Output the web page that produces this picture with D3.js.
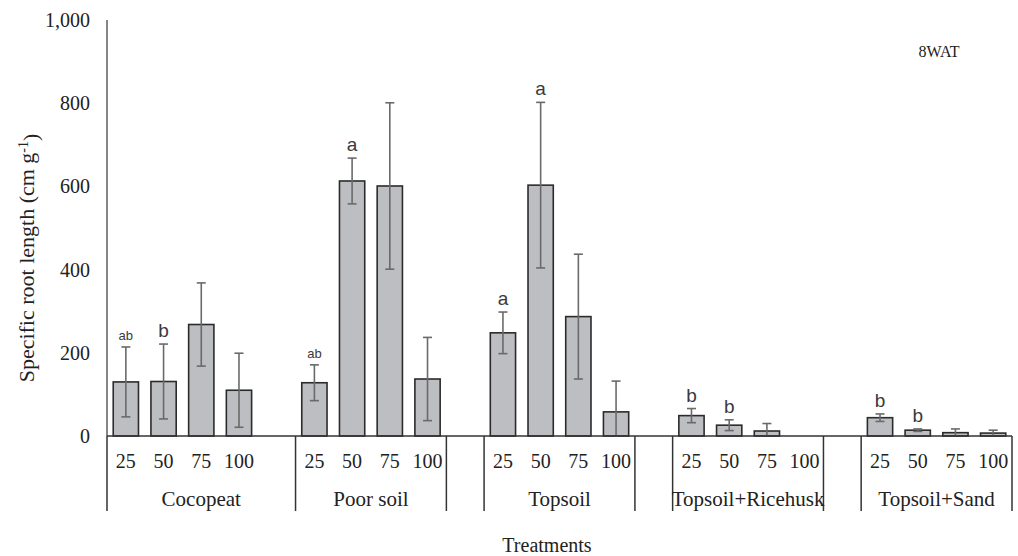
<!DOCTYPE html>
<html>
<head>
<meta charset="utf-8">
<script src="https://cdn.jsdelivr.net/npm/d3@7"></script>
<style>
  body { margin: 0; background: #fff; }
  svg { display: block; }
</style>
</head>
<body>
<div id="chart"></div>
<script>
// groups of treatments, with the blank spacer slots that the original chart uses
const groups = ["Cocopeat", "Poor soil", "", "Topsoil", "", "Topsoil+Ricehusk", "", "Topsoil+Sand"];
const levels = ["25", "50", "75", "100"];
// slots per group (Cocopeat carries its spacer inside the group)
const groupSlots = [5, 4, 1, 4, 1, 4, 1, 4];

const cocopeat = [130, 131, 268, 110];
const poorSoil = [128, 613, 601, 137];
const topsoil = [248, 603, 287, 58];
const ricehusk = [49, 26, 12, 0];
const sand = [44, 14, 8, 7];

const cocopeatErr = [84, 90, 100, 89];
const poorSoilErr = [43, 55, 200, 100];
const topsoilErr = [50, 199, 150, 74];
const ricehuskErr = [17, 13, 18, 0];
const sandErr = [9, 3, 9, 7];

const cocopeatSig = ["ab", "b", "", ""];
const poorSoilSig = ["ab", "a", "", ""];
const topsoilSig = ["a", "a", "", ""];
const ricehuskSig = ["b", "b", "", ""];
const sandSig = ["b", "b", "", ""];

const yTicks = [0, 200, 400, 600, 800, 1000];

const width = 1018, height = 556;
const margin = { top: 20, right: 6, bottom: 120, left: 107 };
const serif = "'Liberation Serif', 'Times New Roman', serif";

// build the flat list of slots
const slots = [];
const groupSpans = [];
groups.forEach((g, gi) => {
  const start = slots.length;
  for (let k = 0; k < groupSlots[gi]; k++) slots.push({ group: g, gi: gi, k: k, id: gi + "-" + k });
  groupSpans.push({ name: g, start: start, end: slots.length });
});

const series = {
  "Cocopeat": [cocopeat, cocopeatErr, cocopeatSig],
  "Poor soil": [poorSoil, poorSoilErr, poorSoilSig],
  "Topsoil": [topsoil, topsoilErr, topsoilSig],
  "Topsoil+Ricehusk": [ricehusk, ricehuskErr, ricehuskSig],
  "Topsoil+Sand": [sand, sandErr, sandSig]
};

const bars = [];
slots.forEach((s) => {
  const sr = series[s.group];
  if (sr && s.k < 4) {
    bars.push({ id: s.id, value: sr[0][s.k], err: sr[1][s.k], sig: sr[2][s.k], level: levels[s.k] });
  }
});

const x = d3.scaleBand()
  .domain(slots.map((d) => d.id))
  .range([margin.left, width - margin.right])
  .paddingInner(0.33)
  .paddingOuter(0.165);

const step = x.step();
const x0 = margin.left;
const edge = (i) => x0 + i * step;

const y = d3.scaleLinear()
  .domain([0, 1000])
  .range([height - margin.bottom, margin.top]);

const svg = d3.select("#chart")
  .append("svg")
  .attr("width", width)
  .attr("height", height);

// y axis
svg.append("line")
  .attr("x1", x0).attr("x2", x0)
  .attr("y1", y(1000)).attr("y2", y(0))
  .attr("stroke", "#444").attr("stroke-width", 1.3);

svg.append("g")
  .style("font-family", serif)
  .style("font-size", "20px")
  .attr("fill", "#222")
  .attr("text-anchor", "end")
  .selectAll("text")
  .data(yTicks)
  .join("text")
  .attr("x", 90)
  .attr("y", (d) => y(d))
  .attr("dy", "0.35em")
  .text((d) => d3.format(",")(d));

// bars
svg.append("g")
  .selectAll("rect")
  .data(bars)
  .join("rect")
  .attr("x", (d) => x(d.id))
  .attr("width", x.bandwidth())
  .attr("y", (d) => y(d.value))
  .attr("height", (d) => y(0) - y(d.value))
  .attr("fill", "#bdbec2")
  .attr("stroke", "#2b2b2b")
  .attr("stroke-width", 1.6);

// error bars
const eb = svg.append("g")
  .attr("stroke", "#6a6a6a")
  .attr("stroke-width", 1.6)
  .selectAll("g")
  .data(bars.filter((d) => d.err > 0))
  .join("g")
  .attr("transform", (d) => `translate(${x(d.id) + x.bandwidth() / 2},0)`);

eb.append("line")
  .attr("y1", (d) => y(d.value + d.err))
  .attr("y2", (d) => y(Math.max(0, d.value - d.err)));
eb.append("line")
  .attr("x1", -4.5).attr("x2", 4.5)
  .attr("y1", (d) => y(d.value + d.err))
  .attr("y2", (d) => y(d.value + d.err));
eb.filter((d) => d.value - d.err > 0)
  .append("line")
  .attr("x1", -4.5).attr("x2", 4.5)
  .attr("y1", (d) => y(d.value - d.err))
  .attr("y2", (d) => y(d.value - d.err));

// significance letters
svg.append("g")
  .style("font-family", "'Liberation Sans', Arial, sans-serif")
  .attr("fill", "#3a3a3a")
  .attr("text-anchor", "middle")
  .selectAll("text")
  .data(bars.filter((d) => d.sig))
  .join("text")
  .attr("x", (d) => x(d.id) + x.bandwidth() / 2)
  .attr("y", (d) => y(d.value + d.err) - 7)
  .style("font-size", (d) => (d.sig.length > 1 ? "13px" : "19px"))
  .text((d) => d.sig);

// x axis baseline
svg.append("line")
  .attr("x1", x0).attr("x2", edge(slots.length))
  .attr("y1", y(0)).attr("y2", y(0))
  .attr("stroke", "#333").attr("stroke-width", 1.5);

// group separators
const seps = [0].concat(groupSpans.map((g) => g.end));
svg.append("g")
  .attr("stroke", "#333")
  .attr("stroke-width", 1.5)
  .selectAll("line")
  .data(seps)
  .join("line")
  .attr("x1", (d) => edge(d)).attr("x2", (d) => edge(d))
  .attr("y1", y(0)).attr("y2", 511);

// level labels
svg.append("g")
  .style("font-family", serif)
  .style("font-size", "20px")
  .attr("fill", "#222")
  .attr("text-anchor", "middle")
  .selectAll("text")
  .data(bars)
  .join("text")
  .attr("x", (d) => x(d.id) + x.bandwidth() / 2)
  .attr("y", 468)
  .text((d) => d.level);

// group labels
svg.append("g")
  .style("font-family", serif)
  .style("font-size", "21px")
  .attr("fill", "#222")
  .attr("text-anchor", "middle")
  .selectAll("text")
  .data(groupSpans.filter((g) => g.name))
  .join("text")
  .attr("x", (d) => (edge(d.start) + edge(d.end)) / 2)
  .attr("y", 506)
  .text((d) => d.name);

// axis titles
svg.append("text")
  .attr("x", 547).attr("y", 552)
  .attr("text-anchor", "middle")
  .style("font-family", serif)
  .style("font-size", "20px")
  .attr("fill", "#222")
  .text("Treatments");

const yt = svg.append("text")
  .attr("transform", "translate(34,258) rotate(-90)")
  .attr("text-anchor", "middle")
  .style("font-family", serif)
  .style("font-size", "22px")
  .attr("fill", "#222");
yt.append("tspan").text("Specific root length (cm g");
yt.append("tspan").attr("dy", "-0.45em").style("font-size", "14px").text("-1");
yt.append("tspan").attr("dy", "0.45em").text(")");

svg.append("text")
  .attr("x", 939).attr("y", 57)
  .attr("text-anchor", "middle")
  .style("font-family", serif)
  .style("font-size", "16px")
  .attr("fill", "#222")
  .text("8WAT");
</script>
</body>
</html>
